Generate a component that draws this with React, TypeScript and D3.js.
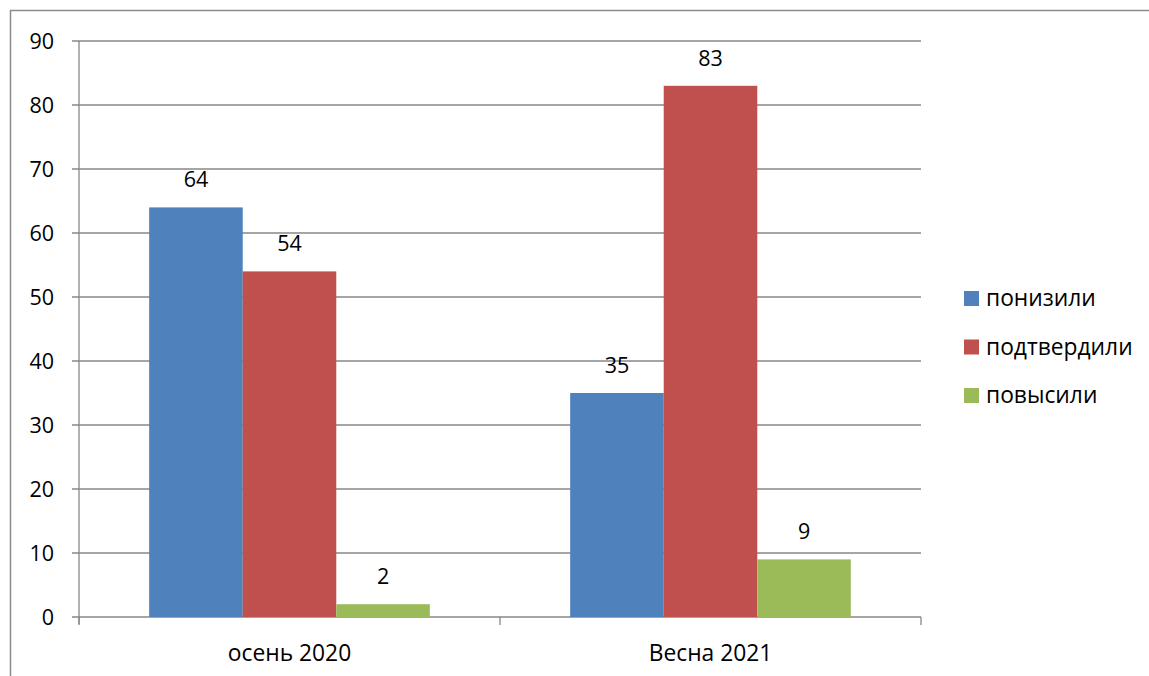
import React from "react";
import * as d3 from "d3";

const categories = ["осень 2020", "Весна 2021"];
const seriesNames = ["понизили", "подтвердили", "повысили"];
const seriesColors = ["#4F81BD", "#C0504D", "#9BBB59"];
const values = [
  [64, 35],
  [54, 83],
  [2, 9],
];
const yTicks = [0, 10, 20, 30, 40, 50, 60, 70, 80, 90];

const W = 1149;
const H = 676;
const FONT = "Open Sans, Liberation Sans, sans-serif";
const FS = 21.5;
const FS_TXT = 22.8;

export default function App() {
  const left = 79, right = 921, top = 41, bottom = 617;
  const x0 = d3.scaleBand<string>().domain(categories).range([left, right]).paddingInner(0).paddingOuter(0);
  const groupW = x0.bandwidth();
  const barW = groupW / 4.5;
  const x1 = d3.scaleBand<string>().domain(seriesNames).range([0, barW * 3]);
  const y = d3.scaleLinear().domain([0, 90]).range([bottom, top]);
  const grid = "#878787";

  return (
    <svg width={W} height={H} style={{ position: "absolute", left: 0, top: 0 }}>
      <rect x={0} y={0} width={W} height={H} fill="#fff" />
      <rect x={10.5} y={10.5} width={W + 20} height={H + 20} fill="none" stroke="#8c8c8c" strokeWidth={1.5} />
      {yTicks.map((t) => (
        <g key={t}>
          <line x1={72} x2={right} y1={y(t)} y2={y(t)} stroke={grid} strokeWidth={1.3} />
          <text x={54} y={y(t)} dy="0.35em" textAnchor="end" fontFamily={FONT} fontSize={FS} fill="#000">
            {t}
          </text>
        </g>
      ))}
      <line x1={left} x2={left} y1={top} y2={bottom + 7} stroke={grid} strokeWidth={1.3} />
      {[0, 1, 2].map((i) => (
        <line key={i} x1={left + i * groupW} x2={left + i * groupW} y1={bottom} y2={bottom + 8} stroke={grid} strokeWidth={1.3} />
      ))}
      {categories.map((c, ci) => {
        const gx = (x0(c) as number) + (groupW - barW * 3) / 2;
        return (
          <g key={c}>
            {seriesNames.map((s, si) => {
              const v = values[si][ci];
              const bx = gx + (x1(s) as number);
              return (
                <g key={s}>
                  <rect x={bx} y={y(v)} width={x1.bandwidth()} height={bottom - y(v)} fill={seriesColors[si]} />
                  <text x={bx + barW / 2} y={y(v) - 20} textAnchor="middle" fontFamily={FONT} fontSize={FS} fill="#000">
                    {v}
                  </text>
                </g>
              );
            })}
            <text x={(x0(c) as number) + groupW / 2} y={661} textAnchor="middle" fontFamily={FONT} fontSize={FS_TXT} fill="#000">
              {c}
            </text>
          </g>
        );
      })}
      {seriesNames.map((s, si) => (
        <g key={s} transform={`translate(964, ${291 + si * 48.5})`}>
          <rect x={0} y={0} width={15} height={15} fill={seriesColors[si]} />
          <text x={22} y={7.5} dy="0.35em" fontFamily={FONT} fontSize={FS_TXT} fill="#000">
            {s}
          </text>
        </g>
      ))}
    </svg>
  );
}
